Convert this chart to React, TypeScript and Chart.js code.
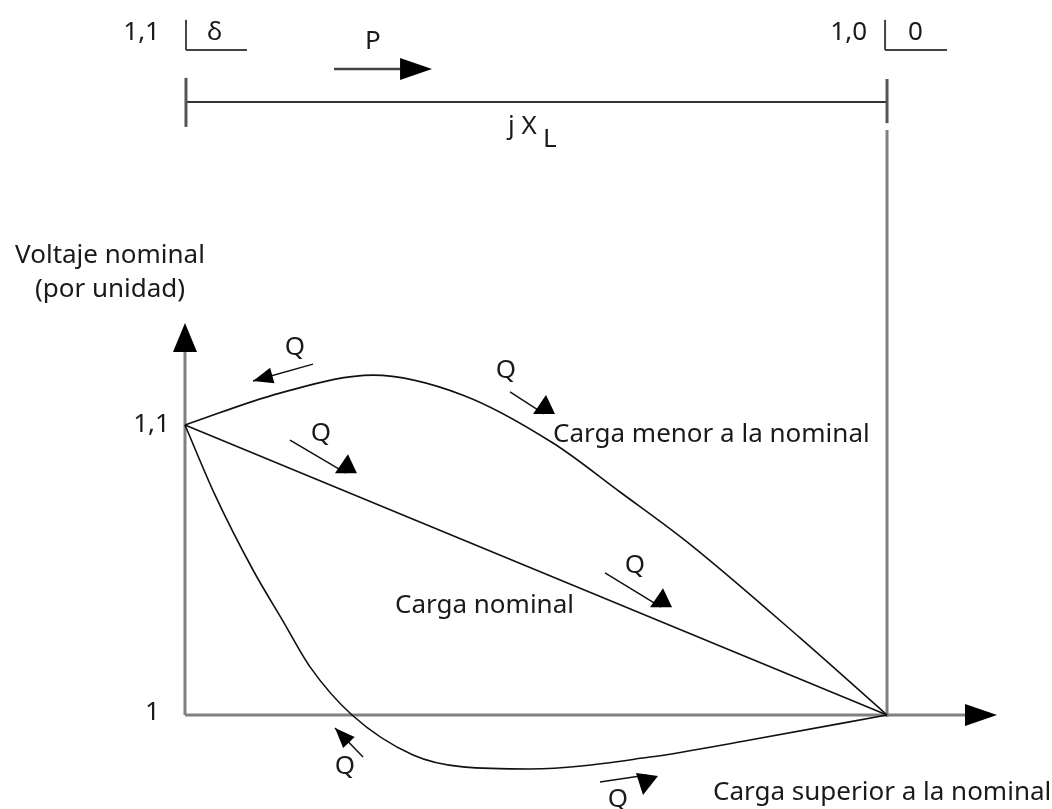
import React, { useEffect, useRef } from "react";
import { Chart, registerables } from "chart.js";

Chart.register(...registerables);

// Power-angle axis (normalised, 0 = sending end, 1 = receiving end) and per-unit voltage
const menorX = [0, 0.1353, 0.2678, 0.396, 0.5242, 0.6197, 0.7151, 0.8761, 1.0];
const menorY = [1.1, 1.111, 1.1172, 1.1103, 1.0938, 1.0769, 1.0597, 1.0266, 1.0];

const nominalX = [0, 1];
const nominalY = [1.1, 1.0];

const superiorX = [0, 0.0427, 0.0969, 0.1396, 0.1781, 0.2379, 0.3248, 0.396, 0.4915, 0.6624, 0.8048, 1.0];
const superiorY = [1.1, 1.0759, 1.05, 1.0324, 1.0166, 1.0, 0.9862, 0.9821, 0.9814, 0.9855, 0.9914, 1.0];

// Y tick labels
const yTickValues = [1.1, 1.0];
const yTickLabels = ["1,1", "1"];

// Q arrows: tail / tip in data units, head style
const qTailX = [0.1823, 0.463, 0.1496, 0.5983, 0.2536, 0.5912];
const qTailY = [1.121, 1.1114, 1.0948, 1.049, 0.9855, 0.9769];
const qTipX = [0.0969, 0.5114, 0.2293, 0.6781, 0.2137, 0.6581];
const qTipY = [1.1152, 1.1038, 1.0834, 1.0372, 0.9955, 0.9793];
const qHead = ["arrow", "up", "up", "up", "arrow", "down"];
const qLabelX = [0.1567, 0.4573, 0.1937, 0.641, 0.2279, 0.6168];
const qLabelY = [1.1266, 1.1186, 1.0972, 1.0514, 0.9821, 0.9707];

// Curve captions
const captionText = ["Carga menor a la nominal", "Carga nominal", "Carga superior a la nominal"];
const captionX = [0.5242, 0.2991, 0.7521];
const captionY = [1.0966, 1.0379, 0.9734];

const FONT = "26px 'Noto Sans', sans-serif";
const TEXT = "#1a1a1a";

const toPts = (xs: number[], ys: number[]) => xs.map((x, i) => ({ x, y: ys[i] }));

const diagramPlugin = {
  id: "diagram",
  beforeDatasetsDraw(chart: any) {
    const ctx = chart.ctx;
    const sx = chart.scales.x;
    const sy = chart.scales.y;
    const px = (v: number) => sx.getPixelForValue(v);
    const py = (v: number) => sy.getPixelForValue(v);
    ctx.save();
    const line = (x1: number, y1: number, x2: number, y2: number, color: string, w: number) => {
      ctx.beginPath();
      ctx.strokeStyle = color;
      ctx.lineWidth = w;
      ctx.moveTo(x1, y1);
      ctx.lineTo(x2, y2);
      ctx.stroke();
    };
    const tri = (pts: number[][]) => {
      ctx.beginPath();
      ctx.fillStyle = "#000";
      ctx.moveTo(pts[0][0], pts[0][1]);
      for (let i = 1; i < pts.length; i++) ctx.lineTo(pts[i][0], pts[i][1]);
      ctx.closePath();
      ctx.fill();
    };
    const axisColor = "#808080";
    // Y axis with arrow
    const x0 = px(0), y1 = py(1);
    const yTip = py(1.1352);
    line(x0, y1, x0, yTip + 20, axisColor, 3);
    tri([[x0, yTip], [x0 - 12, yTip + 29], [x0 + 12, yTip + 29]]);
    // X axis with arrow
    const xTip = px(1.1567);
    line(x0, y1, xTip - 20, y1, axisColor, 3);
    tri([[xTip, y1], [xTip - 32, y1 - 11], [xTip - 32, y1 + 11]]);
    // Vertical line at receiving end
    const x1 = px(1);
    line(x1, y1 + 2, x1, py(1.2017), axisColor, 3);
    // Top line (line reactance)
    const yTop = py(1.2114);
    line(x0, yTop, x1, yTop, "#333", 2);
    line(x0 + 1, py(1.2197), x0 + 1, py(1.2028), "#555", 3);
    line(x1, py(1.2193), x1, py(1.2041), "#555", 3);
    // Phasor brackets
    line(px(0.0014), py(1.2397), px(0.0014), py(1.2293), "#444", 2);
    line(px(0.0014), py(1.2293), px(0.0883), py(1.2293), "#444", 2);
    line(px(0.9972), py(1.2397), px(0.9972), py(1.2293), "#444", 2);
    line(px(0.9972), py(1.2293), px(1.0855), py(1.2293), "#444", 2);
    // P arrow
    const pY = py(1.2228);
    const pEnd = px(0.3519);
    line(px(0.2123), pY, pEnd - 20, pY, "#444", 2.5);
    tri([[pEnd, pY], [pEnd - 32, pY - 11], [pEnd - 32, pY + 11]]);
    ctx.restore();
  },
  afterDatasetsDraw(chart: any) {
    const ctx = chart.ctx;
    const sx = chart.scales.x;
    const sy = chart.scales.y;
    const px = (v: number) => sx.getPixelForValue(v);
    const py = (v: number) => sy.getPixelForValue(v);
    ctx.save();
    const tri = (pts: number[][]) => {
      ctx.beginPath();
      ctx.fillStyle = "#000";
      ctx.moveTo(pts[0][0], pts[0][1]);
      for (let i = 1; i < pts.length; i++) ctx.lineTo(pts[i][0], pts[i][1]);
      ctx.closePath();
      ctx.fill();
    };
    // Q arrows
    for (let i = 0; i < qTailX.length; i++) {
      const tx = px(qTailX[i]), ty = py(qTailY[i]);
      const hx = px(qTipX[i]), hy = py(qTipY[i]);
      ctx.beginPath();
      ctx.strokeStyle = "#111";
      ctx.lineWidth = 1.5;
      ctx.moveTo(tx, ty);
      ctx.lineTo(hx, hy);
      ctx.stroke();
      if (qHead[i] === "arrow") {
        const a = Math.atan2(hy - ty, hx - tx);
        const L = 20, H = 8;
        const bx = hx - L * Math.cos(a), by = hy - L * Math.sin(a);
        tri([[hx, hy], [bx + H * Math.sin(a), by - H * Math.cos(a)], [bx - H * Math.sin(a), by + H * Math.cos(a)]]);
      } else if (qHead[i] === "up") {
        tri([[hx + 2, hy - 19], [hx - 11, hy], [hx + 11, hy]]);
      } else {
        tri([[hx - 11, hy - 2], [hx + 11, hy + 1], [hx - 4, hy + 20]]);
      }
    }
    ctx.font = FONT;
    ctx.fillStyle = TEXT;
    ctx.textBaseline = "middle";
    ctx.textAlign = "center";
    for (let i = 0; i < qLabelX.length; i++) ctx.fillText("Q", px(qLabelX[i]), py(qLabelY[i]));
    ctx.textAlign = "left";
    for (let i = 0; i < captionText.length; i++) ctx.fillText(captionText[i], px(captionX[i]), py(captionY[i]));
    // Y tick labels
    ctx.textAlign = "right";
    ctx.fillText(yTickLabels[0], px(-0.0214), py(yTickValues[0]));
    ctx.fillText(yTickLabels[1], px(-0.0356), py(yTickValues[1]) - 2);
    // Axis title
    ctx.textAlign = "center";
    ctx.fillText("Voltaje nominal", px(-0.1068), py(1.1583));
    ctx.fillText("(por unidad)", px(-0.1068), py(1.1466));
    // Top phasors
    ctx.textAlign = "right";
    ctx.fillText("1,1", px(-0.0356), py(1.2352));
    ctx.fillText("1,0", px(0.9715), py(1.2352));
    ctx.textAlign = "left";
    ctx.fillText("δ", px(0.0313), py(1.2352));
    ctx.fillText("0", px(1.0299), py(1.2352));
    ctx.fillText("P", px(0.2564), py(1.2321));
    ctx.fillText("j X", px(0.4601), py(1.2028));
    ctx.fillText("L", px(0.51), py(1.1983));
    ctx.restore();
  },
};

export default function App() {
  const ref = useRef<HTMLCanvasElement | null>(null);
  useEffect(() => {
    if (!ref.current) return;
    const curve = (data: any, smooth: boolean) => ({
      data,
      showLine: true,
      borderColor: "#111",
      borderWidth: 1.6,
      pointRadius: 0,
      fill: false,
      clip: false as any,
      cubicInterpolationMode: smooth ? "monotone" : "default",
      tension: smooth ? 0.4 : 0,
    });
    const chart = new Chart(ref.current, {
      type: "scatter",
      data: {
        datasets: [
          { label: "Carga menor a la nominal", ...curve(toPts(menorX, menorY), true) },
          { label: "Carga nominal", ...curve(toPts(nominalX, nominalY), false) },
          { label: "Carga superior a la nominal", ...curve(toPts(superiorX, superiorY), true) },
        ] as any,
      },
      options: {
        responsive: false,
        animation: false,
        layout: { padding: 0 },
        plugins: { legend: { display: false }, tooltip: { enabled: false } },
        events: [],
        scales: {
          x: { type: "linear", min: -0.2635, max: 1.235, display: false },
          y: { type: "linear", min: 0.96759, max: 1.24655, display: false },
        },
      },
      plugins: [diagramPlugin],
    });
    return () => chart.destroy();
  }, []);
  return (
    <div style={{ position: "absolute", left: 0, top: 0, width: 1052, height: 809, background: "#fff" }}>
      <canvas ref={ref} width={1052} height={809} style={{ display: "block" }} />
    </div>
  );
}
